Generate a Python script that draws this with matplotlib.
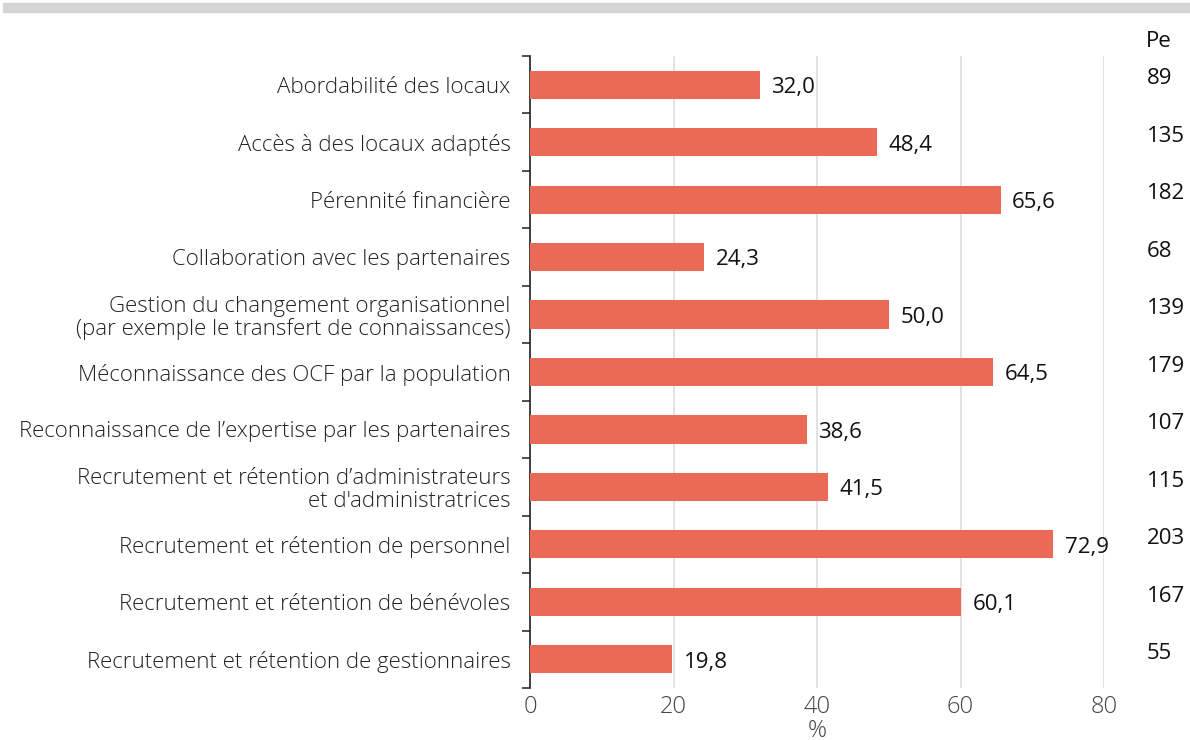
import matplotlib
matplotlib.use("Agg")
import matplotlib.pyplot as plt
from matplotlib.patches import Rectangle
from matplotlib.transforms import blended_transform_factory
import numpy as np

plt.rcParams['font.family'] = ['Open Sans', 'DejaVu Sans']

categories = [
    "Abordabilité des locaux",
    "Accès à des locaux adaptés",
    "Pérennité financière",
    "Collaboration avec les partenaires",
    "Gestion du changement organisationnel\n(par exemple le transfert de connaissances)",
    "Méconnaissance des OCF par la population",
    "Reconnaissance de l\u2019expertise par les partenaires",
    "Recrutement et rétention d\u2019administrateurs\net d'administratrices",
    "Recrutement et rétention de personnel",
    "Recrutement et rétention de bénévoles",
    "Recrutement et rétention de gestionnaires",
]
percent = [32.0, 48.4, 65.6, 24.3, 50.0, 64.5, 38.6, 41.5, 72.9, 60.1, 19.8]
counts = [89, 135, 182, 68, 139, 179, 107, 115, 203, 167, 55]
xticks = [0, 20, 40, 60, 80]
count_header = "Pe"

W, H = 1190, 740
fig = plt.figure(figsize=(W / 100, H / 100), dpi=100)

# grey band across the top
fig.patches.append(Rectangle((3 / W, 1 - 12 / H), 1 - 3 / W, 9 / H,
                             transform=fig.transFigure, color="#d5d5d5", zorder=0))

left, right, top, bottom = 530, 1104, 56, 688
ax = fig.add_axes([left / W, 1 - bottom / H, (right - left) / W, (bottom - top) / H])

n = len(categories)
y = np.arange(n)
bar_color = "#EB6A55"
ax.barh(y, percent, height=0.49, color=bar_color, zorder=3)
ax.set_ylim(n - 0.5, -0.5)
ax.set_xlim(0, 80)

for yi, v in zip(y, percent):
    ax.text(v + 1.6, yi + 0.05, f"{v:.1f}".replace(".", ","), va="center", ha="left",
            fontsize=16, color="#111111", zorder=4)

# count column on the right
trans = blended_transform_factory(fig.transFigure, ax.transData)
for yi, c in zip(y, counts):
    ax.text(1147 / W, yi - 0.1, str(c), transform=trans, va="center",
            ha="left", fontsize=16, color="#111111", clip_on=False)
ax.text(1146 / W, -0.5 - 14 / 57.45, count_header, transform=trans,
        va="center", ha="left", fontsize=16, color="#111111", clip_on=False)

ax.set_yticks(y)
ax.set_yticklabels(categories, fontsize=16, color="#222222", fontweight="light",
                   linespacing=1.1)
ax.tick_params(axis="y", which="major", length=0, pad=14)
ax.set_yticks(np.arange(-0.5, n, 1.0), minor=True)
ax.tick_params(axis="y", which="minor", length=6, width=1.2, color="#333333")

ax.set_xticks(xticks)
ax.set_xticklabels([str(t) for t in xticks], fontsize=17, color="#444444",
                   fontweight="light")
ax.tick_params(axis="x", length=0, pad=5)
ax.set_xlabel("%", fontsize=17, color="#444444", fontweight="light", labelpad=0)

ax.grid(axis="x", color="#dddddd", linewidth=1.2, zorder=0)
for s in ["top", "right", "bottom"]:
    ax.spines[s].set_visible(False)
ax.spines["left"].set_color("#222222")
ax.spines["left"].set_linewidth(1.2)

fig.savefig("out.png", dpi=100)
